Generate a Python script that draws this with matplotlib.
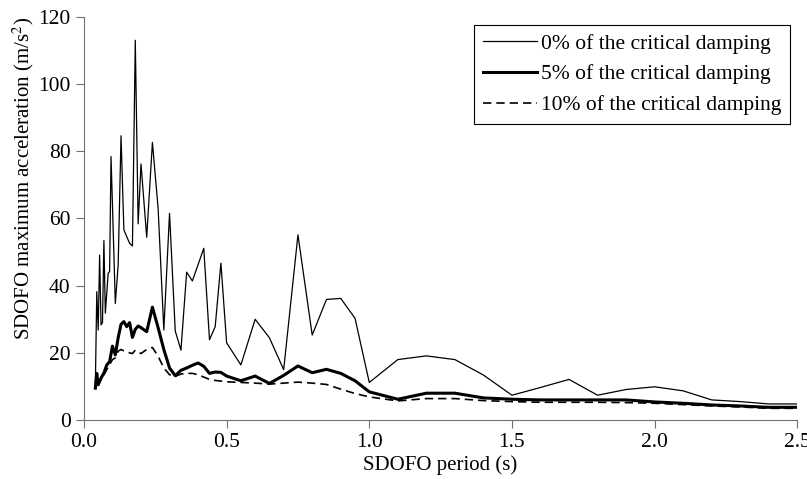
import matplotlib
matplotlib.use("Agg")
import matplotlib.pyplot as plt

plt.rcParams['font.family'] = ['Liberation Serif', 'DejaVu Serif']
plt.rcParams['mathtext.fontset'] = 'stix'

# periods (s) for the undamped curve
period_0 = [0.04, 0.045, 0.05, 0.055, 0.06, 0.065, 0.07, 0.075, 0.085, 0.09, 0.095,
            0.11, 0.12, 0.13, 0.14, 0.16, 0.17, 0.18, 0.19, 0.20, 0.22, 0.24, 0.26,
            0.28, 0.30, 0.32, 0.34, 0.36, 0.38, 0.42, 0.44, 0.46, 0.48, 0.50, 0.55,
            0.60, 0.65, 0.70, 0.75, 0.80, 0.85, 0.90, 0.95, 1.00, 1.10, 1.20, 1.30,
            1.40, 1.50, 1.60, 1.70, 1.80, 1.90, 2.00, 2.10, 2.20, 2.30, 2.40, 2.50]
acc_0 = [9.9, 38.2, 26.8, 49.1, 28.3, 29.0, 53.4, 31.8, 43.7, 44.2, 78.4,
         34.7, 46.2, 84.6, 56.6, 52.6, 51.8, 113.0, 58.4, 76.2, 54.4, 82.6, 63.0,
         26.8, 61.5, 26.5, 20.8, 44.0, 41.4, 51.1, 23.9, 27.8, 46.7, 23.0, 16.4,
         30.0, 24.5, 15.0, 55.1, 25.3, 35.9, 36.2, 30.3, 11.2, 18.0, 19.1, 18.0,
         13.4, 7.4, 9.7, 12.1, 7.4, 9.1, 9.9, 8.7, 6.0, 5.5, 4.8, 4.8]

# periods (s) for the damped curves
period_d = [0.04, 0.045, 0.05, 0.06, 0.07, 0.08, 0.09, 0.10, 0.11, 0.12, 0.13, 0.14,
            0.15, 0.16, 0.17, 0.18, 0.19, 0.20, 0.22, 0.24, 0.26, 0.28, 0.30, 0.32,
            0.34, 0.36, 0.38, 0.40, 0.42, 0.44, 0.46, 0.48, 0.50, 0.55, 0.60, 0.65,
            0.70, 0.75, 0.80, 0.85, 0.90, 0.95, 1.00, 1.10, 1.20, 1.30, 1.40, 1.50,
            1.60, 1.70, 1.80, 1.90, 2.00, 2.10, 2.20, 2.30, 2.40, 2.50]
acc_5 = [9.5, 13.9, 10.5, 12.5, 14.0, 16.4, 17.4, 22.0, 19.4, 24.5, 28.5, 29.3,
         27.8, 29.0, 24.6, 27.0, 28.0, 27.5, 26.3, 33.6, 27.5, 21.0, 15.5, 13.2,
         14.8, 15.5, 16.3, 17.0, 16.0, 13.9, 14.3, 14.2, 13.1, 11.7, 13.1, 10.9,
         13.3, 16.1, 14.1, 15.1, 13.9, 11.7, 8.4, 6.2, 8.0, 8.0, 6.6, 6.2,
         6.0, 6.0, 6.0, 6.0, 5.4, 5.0, 4.5, 4.2, 3.8, 3.8]
acc_10 = [9.4, 12.5, 10.8, 12.0, 13.5, 15.0, 16.5, 18.0, 18.5, 20.5, 21.0, 20.6,
          20.4, 20.0, 19.8, 20.8, 20.3, 19.8, 21.0, 21.6, 19.0, 15.5, 13.5, 13.0,
          13.7, 13.9, 13.9, 13.5, 12.8, 12.1, 11.8, 11.6, 11.4, 11.2, 11.0, 10.7,
          11.0, 11.3, 11.0, 10.6, 9.2, 7.9, 6.9, 5.7, 6.4, 6.4, 5.8, 5.5,
          5.3, 5.3, 5.3, 5.2, 5.0, 4.6, 4.2, 3.9, 3.5, 3.5]

fig = plt.figure(figsize=(8.07, 4.79), dpi=100)
ax = fig.add_axes([0.104, 0.123, 0.884, 0.842])

ax.plot(period_0, acc_0, color='black', lw=0.9, label='0% of the critical damping')
ax.plot(period_d, acc_5, color='black', lw=2.2, label='5% of the critical damping')
ax.plot(period_d, acc_10, color='black', lw=1.2, ls=(0, (5, 3)),
        label='10% of the critical damping')

ax.set_xlim(0, 2.5)
ax.set_ylim(0, 120)
ax.set_xticks([0.0, 0.5, 1.0, 1.5, 2.0, 2.5])
ax.set_xticklabels(['0.0', '0.5', '1.0', '1.5', '2.0', '2.5'])
ax.set_yticks(range(0, 121, 20))

for s in ['top', 'right']:
    ax.spines[s].set_visible(False)
for s in ['left', 'bottom']:
    ax.spines[s].set_color('#707070')
ax.tick_params(direction='out', length=6, color='#707070', labelsize=15.5)

ax.set_xlabel('SDOFO period (s)', fontsize=15, labelpad=2)
ax.set_ylabel('SDOFO maximum acceleration (m/s$^2$)', fontsize=15)
ax.yaxis.set_label_coords(-0.067, 0.60)

leg = ax.legend(loc='upper right', bbox_to_anchor=(0.99, 0.98), fontsize=15.5,
                fancybox=False, framealpha=1, edgecolor='black', handlelength=2.5,
                handletextpad=0.2, borderaxespad=0, labelspacing=0.5, borderpad=0.4)
leg.get_frame().set_linewidth(0.8)

fig.savefig('out.png', dpi=100)
